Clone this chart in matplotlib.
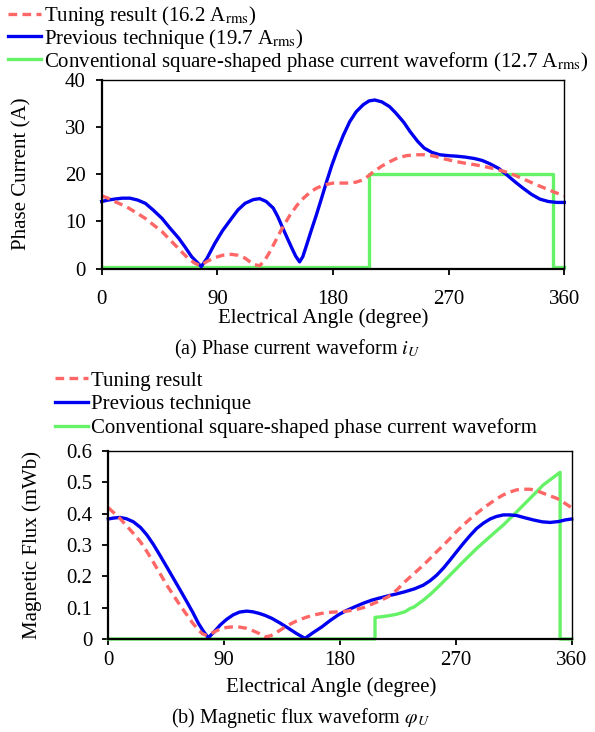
import numpy as np
import matplotlib
matplotlib.use("Agg")
import matplotlib.pyplot as plt

plt.rcParams['font.family'] = ['Liberation Serif', 'DejaVu Serif']
plt.rcParams['mathtext.fontset'] = 'stix'

# ---- (a) phase current ----
cur_prev_deg = [0, 5, 10, 16, 22, 28, 34, 40, 47, 53, 60, 65, 70, 77.5, 82, 88, 94, 101, 106, 111.5,
                118, 123, 128, 133.5, 137, 141, 144.5, 148, 151, 154, 156.5, 159.5, 163, 167, 171,
                175, 179, 183, 188, 193, 198, 203.5, 208, 212.5, 218, 224, 229, 235, 240, 246, 251,
                257, 263, 270, 276, 283, 290, 296, 302, 309, 315, 321.5, 328, 334.5, 341, 347.5,
                354, 360]
cur_prev = [14.2, 14.5, 14.7, 14.9, 14.9, 14.5, 13.8, 12.4, 10.6, 8.6, 6.4, 4.5, 2.5, 0.4, 2.2, 5.3,
            8.0, 10.6, 12.4, 13.8, 14.6, 14.8, 14.2, 12.8, 11.0, 8.5, 6.4, 4.3, 2.6, 1.4, 2.5, 5.0,
            8.0, 11.3, 14.8, 18.4, 21.8, 24.8, 28.2, 31.1, 33.2, 34.7, 35.5, 35.7, 35.3, 34.3, 32.9,
            31.0, 29.0, 26.9, 25.5, 24.6, 24.1, 23.9, 23.8, 23.6, 23.3, 22.9, 22.2, 21.2, 19.9,
            18.4, 17.0, 15.7, 14.7, 14.2, 14.0, 14.0]

cur_tune_deg = [0, 5, 10, 15, 21, 27, 34, 40, 47, 52, 57, 62, 67, 72, 76.5, 82, 88, 94, 101, 106,
                111.5, 115.5, 119, 123, 127, 131, 135, 139, 143, 146.5, 152, 157, 162, 167, 173,
                180, 187, 193, 198, 203.5, 207, 211.5, 218, 224, 230, 237, 244, 251.5, 259, 267,
                275, 283, 290, 298, 306, 314, 322, 329.5, 337, 345, 352, 360]
cur_tune = [15.4, 14.9, 14.2, 13.6, 12.8, 11.8, 10.6, 9.3, 7.8, 6.4, 5.0, 3.6, 2.2, 1.2, 0.6, 1.5,
            2.3, 2.8, 3.0, 2.8, 2.2, 1.4, 0.8, 0.6, 1.8, 3.6, 5.7, 7.8, 9.7, 11.3, 13.4, 14.9, 16.1,
            17.0, 17.7, 18.1, 18.1, 18.1, 18.3, 18.8, 19.5, 20.5, 21.7, 22.6, 23.4, 23.9, 24.1, 24.1,
            23.8, 23.2, 22.7, 22.3, 22.0, 21.6, 21.1, 20.5, 19.7, 18.8, 17.9, 17.0, 16.2, 15.4]

cur_sq_deg = [0, 208, 208, 351.5, 351.5, 360]
cur_sq = [0.3, 0.3, 20, 20, 0.3, 0.3]

# ---- (b) magnetic flux ----
flux_prev_deg = [0, 4, 9, 14, 19.5, 25, 30, 35, 40, 45, 50.5, 56, 61, 65.5, 70, 74, 77.7, 82, 87,
                 92, 97, 102, 107.5, 112, 117, 122, 127, 133, 140, 146, 152.8, 159, 166, 172, 178.7,
                 185, 191.7, 198, 204.7, 211, 217.6, 224, 230.5, 237.8, 244.8, 250, 255.2, 260.5,
                 265.5, 270.5, 275.8, 281, 286.2, 291.5, 296.6, 301.5, 306.9, 312, 317.3, 323.5,
                 330.2, 337, 343.2, 350, 355, 360]
flux_prev = [0.383, 0.386, 0.388, 0.384, 0.374, 0.356, 0.332, 0.302, 0.268, 0.233, 0.194, 0.155,
             0.119, 0.086, 0.050, 0.024, 0.004, 0.022, 0.045, 0.063, 0.077, 0.086, 0.089, 0.087,
             0.082, 0.075, 0.066, 0.052, 0.034, 0.018, 0.002, 0.020, 0.039, 0.058, 0.077, 0.091,
             0.103, 0.114, 0.124, 0.131, 0.138, 0.144, 0.151, 0.160, 0.172, 0.186, 0.204, 0.227,
             0.252, 0.278, 0.305, 0.330, 0.353, 0.370, 0.383, 0.391, 0.396, 0.396, 0.394, 0.387,
             0.380, 0.374, 0.372, 0.375, 0.380, 0.383]

flux_tune_deg = [0, 4, 9, 14, 19.5, 25, 30, 35, 40, 45, 50.5, 56, 61, 65.5, 70, 73, 76.5, 81, 87,
                 92, 97, 102, 107.5, 112, 117, 122, 126, 129.5, 135, 140, 146, 152.8, 159, 166, 172,
                 178.7, 185, 191.7, 198, 204.7, 211, 217.6, 224, 230.5, 237.8, 244.8, 250, 255.2,
                 260.5, 265.5, 270.5, 275.8, 281, 286.2, 291.5, 296.6, 301.5, 306.9, 312, 317.3,
                 322, 327.7, 333, 338, 343, 348.4, 354, 360]
flux_tune = [0.419, 0.404, 0.385, 0.362, 0.337, 0.310, 0.279, 0.245, 0.210, 0.175, 0.140, 0.106,
             0.077, 0.051, 0.029, 0.017, 0.011, 0.020, 0.032, 0.037, 0.039, 0.038, 0.034, 0.027,
             0.018, 0.007, 0.010, 0.018, 0.032, 0.045, 0.057, 0.068, 0.076, 0.082, 0.085, 0.087,
             0.089, 0.093, 0.100, 0.111, 0.122, 0.135, 0.156, 0.183, 0.210, 0.236, 0.257, 0.279,
             0.300, 0.321, 0.343, 0.364, 0.383, 0.401, 0.418, 0.433, 0.447, 0.460, 0.469, 0.476,
             0.478, 0.478, 0.473, 0.465, 0.457, 0.449, 0.435, 0.419]

flux_sq_deg = [0, 207.2, 207.2, 212, 217.6, 224, 230.5, 234.4, 237.8, 244.8, 250, 255.2, 265.5,
               275.8, 286.2, 296.6, 306.9, 317.3, 327.7, 338, 351, 351, 360]
flux_sq = [0, 0, 0.069, 0.071, 0.074, 0.079, 0.087, 0.097, 0.103, 0.124, 0.142, 0.162, 0.204,
           0.247, 0.289, 0.327, 0.364, 0.406, 0.449, 0.492, 0.532, 0, 0]

RED = '#ff6666'
BLUE = '#0000f0'
GREEN = '#66f266'
FS = 15

fig = plt.figure(figsize=(5.95, 7.32), dpi=100)
W, H = 595, 732


def px_axes(l, t, r, b):
    return fig.add_axes([l / W, 1 - b / H, (r - l) / W, (b - t) / H])


def style(ax, ylim, yticks, ylabels, xpad):
    ax.set_xlim(0, 360)
    ax.set_ylim(*ylim)
    ax.set_xticks([0, 90, 180, 270, 360])
    ax.set_yticks(yticks)
    ax.set_yticklabels(ylabels)
    ax.tick_params(axis='both', direction='out', length=4.5, width=1.3, labelsize=FS)
    ax.tick_params(axis='x', pad=xpad)
    ax.tick_params(axis='y', pad=7)
    for s in ['left', 'bottom']:
        ax.spines[s].set_linewidth(1.6)
    for s in ['top', 'right']:
        ax.spines[s].set_linewidth(1.0)


def draw(ax, data):
    hs = []
    for x, y, c, ls in data:
        h, = ax.plot(x, y, color=c, ls=ls, lw=2.4, clip_on=False,
                     dashes=(2.6, 1.6) if ls == '--' else (None, None))
        hs.append(h)
    return hs


# (a)
ax1 = px_axes(101.7, 79.7, 564.3, 268.5)
h = draw(ax1, [(cur_sq_deg, cur_sq, GREEN, '-'),
               (cur_prev_deg, cur_prev, BLUE, '-'),
               (cur_tune_deg, cur_tune, RED, '--')])
style(ax1, (0, 40), [0, 10, 20, 30, 40], ['0', '10', '20', '30', '40'], 11)
ax1.set_ylabel('Phase Current (A)', fontsize=FS)
ax1.yaxis.set_label_coords(-0.172, 0.5)
ax1.set_xlabel('Electrical Angle (degree)', fontsize=FS)
ax1.xaxis.set_label_coords(0.478, -0.262)
ax1.xaxis.label.set_va('center')
ax1.yaxis.label.set_va('center')
fig.legend([h[2], h[1], h[0]],
           [r'Tuning result (16.2 A$_{\mathrm{rms}}$)',
            r'Previous technique (19.7 A$_{\mathrm{rms}}$)',
            r'Conventional square-shaped phase current waveform (12.7 A$_{\mathrm{rms}}$)'],
           loc='upper left', bbox_to_anchor=(8 / W, 1 - 4 / H), frameon=False, fontsize=FS,
           handlelength=1.6, handletextpad=0.15, labelspacing=-0.06, borderpad=0, borderaxespad=0)
fig.text(297 / W, 1 - 349 / H, r'(a) Phase current waveform $i_U$', fontsize=14.5,
         ha='center', va='center')

# (b)
ax2 = px_axes(108.3, 451, 571.7, 639)
h2 = draw(ax2, [(flux_sq_deg, flux_sq, GREEN, '-'),
                (flux_prev_deg, flux_prev, BLUE, '-'),
                (flux_tune_deg, flux_tune, RED, '--')])
style(ax2, (0, 0.6), [0, 0.1, 0.2, 0.3, 0.4, 0.5, 0.6],
      ['0', '0.1', '0.2', '0.3', '0.4', '0.5', '0.6'], 4)
ax2.set_ylabel('Magnetic Flux (mWb)', fontsize=FS)
ax2.yaxis.set_label_coords(-0.165, 0.5)
ax2.set_xlabel('Electrical Angle (degree)', fontsize=FS)
ax2.xaxis.set_label_coords(0.48, -0.255)
ax2.xaxis.label.set_va('center')
ax2.yaxis.label.set_va('center')
fig.legend([h2[2], h2[1], h2[0]],
           ['Tuning result', 'Previous technique',
            'Conventional square-shaped phase current waveform'],
           loc='upper left', bbox_to_anchor=(55 / W, 1 - 371 / H), frameon=False, fontsize=FS,
           handlelength=1.6, handletextpad=0.15, labelspacing=0.2, borderpad=0, borderaxespad=0)
fig.text(300 / W, 1 - 718 / H, r'(b) Magnetic flux waveform $\varphi_U$', fontsize=14.5,
         ha='center', va='center')

fig.savefig('out.png', dpi=100)
